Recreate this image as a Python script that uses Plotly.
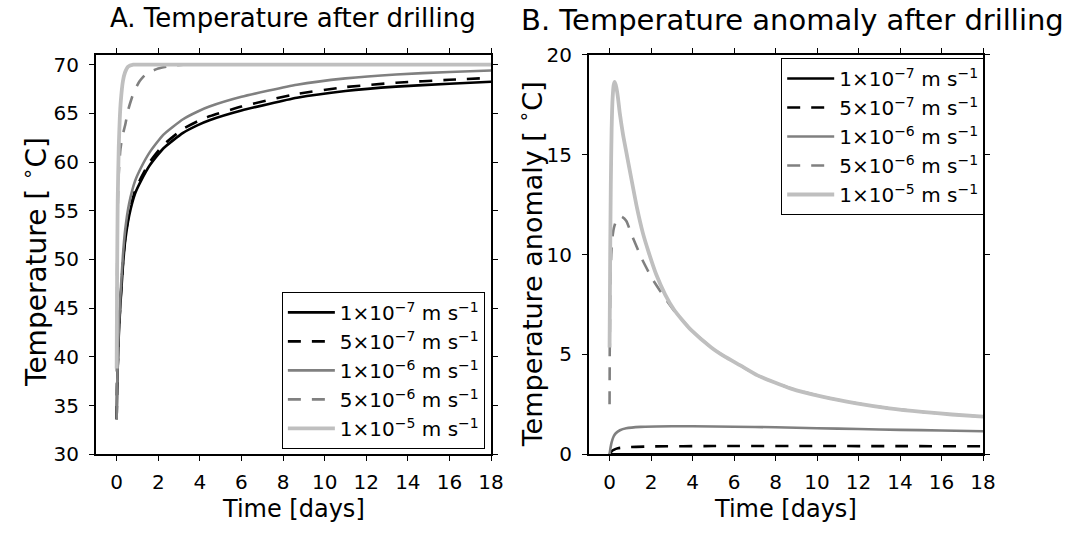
import plotly.graph_objects as go

# ---------------- data ----------------
labels = ["1×10<sup>−7</sup> m s<sup>−1</sup>", "5×10<sup>−7</sup> m s<sup>−1</sup>",
          "1×10<sup>−6</sup> m s<sup>−1</sup>", "5×10<sup>−6</sup> m s<sup>−1</sup>",
          "1×10<sup>−5</sup> m s<sup>−1</sup>"]

# Panel A: temperature [°C]
tA = [0, 0.02, 0.05, 0.1, 0.18, 0.3, 0.41, 0.6, 0.89, 1.2, 1.6, 2.24, 3.19, 3.9, 4.46, 6, 8.67, 11, 13.43, 16, 18]
TA_1e7 = [33.6, 36.5, 38.8, 42.1, 45.4, 49.3, 51.9, 54.5, 56.8, 58.2, 59.7, 61.4, 63.0, 63.8, 64.3, 65.3, 66.6, 67.3, 67.75, 68.05, 68.25]
TA_5e7 = [33.6, 36.6, 39.0, 42.3, 45.65, 49.6, 52.2, 54.8, 57.1, 58.5, 60.05, 61.75, 63.4, 64.2, 64.7, 65.7, 67.0, 67.7, 68.15, 68.45, 68.65]
TA_1e6 = [33.6, 36.7, 39.15, 42.7, 46.25, 50.35, 53.05, 55.75, 58.1, 59.55, 61.05, 62.8, 64.4, 65.2, 65.7, 66.7, 67.95, 68.6, 69.0, 69.25, 69.4]

tA_5e6 = [0, 0.01, 0.03, 0.06, 0.1, 0.18, 0.28, 0.41, 0.56, 0.81, 1.1, 1.44, 2.0, 2.55, 3.2, 18]
TA_5e6 = [36.0, 44.0, 51.0, 56.0, 58.8, 61.3, 62.7, 63.8, 65.4, 67.1, 68.3, 69.1, 69.6, 69.85, 70.0, 70.0]

tA_1e5 = [0, 0.02, 0.05, 0.1, 0.15, 0.2, 0.3, 0.4, 0.55, 0.8, 1.2, 18]
TA_1e5 = [38.8, 48.0, 56.0, 61.5, 64.5, 66.3, 68.3, 69.2, 69.8, 70.0, 70.0, 70.0]

# Panel B: temperature anomaly [°C]
tB_1e7 = [0, 2, 4, 6, 8, 10, 12, 14, 16, 18]
AB_1e7 = [0, 0, 0, 0, 0, 0, 0, 0, 0, 0]

tB_5e7 = [0, 0.1, 0.2, 0.4, 1, 2, 5, 10, 14, 18]
AB_5e7 = [0, 0.15, 0.22, 0.3, 0.36, 0.39, 0.41, 0.41, 0.405, 0.40]

tB_1e6 = [0, 0.05, 0.1, 0.2, 0.3, 0.5, 0.8, 1.5, 3, 4, 6, 8, 10, 12, 14, 16, 18]
AB_1e6 = [0, 0.35, 0.6, 0.9, 1.05, 1.2, 1.3, 1.37, 1.4, 1.4, 1.38, 1.35, 1.3, 1.26, 1.22, 1.19, 1.15]

tB_5e6 = [0, 0.01, 0.04, 0.08, 0.13, 0.2, 0.3, 0.42, 0.59, 0.8, 1.1, 1.57, 2.05, 2.68, 3.1, 3.48, 3.95, 4.9,
          5.54, 6.3, 7.13, 8.71, 10.3, 11.9, 13.48, 15.06, 16.5, 18]
AB_5e6 = [2.5, 5.5, 8.5, 10.0, 10.8, 11.3, 11.65, 11.85, 11.9, 11.7, 10.9, 9.76, 8.8, 7.8, 7.2, 6.75, 6.2, 5.35,
          4.9, 4.45, 3.95, 3.3, 2.87, 2.55, 2.3, 2.12, 1.99, 1.88]

tB_1e5 = [0, 0.03, 0.06, 0.1, 0.15, 0.2, 0.25, 0.32, 0.4, 0.49, 0.65, 0.85, 1.05, 1.33, 1.6, 1.89, 2.25, 2.68,
          3.1, 3.48, 3.95, 4.9, 5.54, 6.3, 7.13, 8.71, 10.3, 11.9, 13.48, 15.06, 16.5, 18]
AB_1e5 = [5.35, 10.0, 13.5, 16.3, 17.9, 18.5, 18.65, 18.4, 17.9, 17.1, 16.0, 14.9, 13.8, 12.3, 11.1, 10.1, 9.0, 8.0,
          7.25, 6.75, 6.2, 5.35, 4.9, 4.45, 3.95, 3.3, 2.87, 2.55, 2.3, 2.12, 1.99, 1.88]

x_ticks = [0, 2, 4, 6, 8, 10, 12, 14, 16, 18]
yA_ticks = [30, 35, 40, 45, 50, 55, 60, 65, 70]
yB_ticks = [0, 5, 10, 15, 20]

# ---------------- styles ----------------
styles = [
    dict(color="#000000", width=2.6, dash="solid"),
    dict(color="#000000", width=2.6, dash="13px,11px"),
    dict(color="#808080", width=2.6, dash="solid"),
    dict(color="#808080", width=2.6, dash="13px,11px"),
    dict(color="#bfbfbf", width=3.8, dash="solid"),
]

FONT = "DejaVu Sans"
fig = go.Figure()

A_series = [(tA, TA_1e7), (tA, TA_5e7), (tA, TA_1e6), (tA_5e6, TA_5e6), (tA_1e5, TA_1e5)]
B_series = [(tB_1e7, AB_1e7), (tB_5e7, AB_5e7), (tB_1e6, AB_1e6), (tB_5e6, AB_5e6), (tB_1e5, AB_1e5)]

for (t, v), lab, st in zip(A_series, labels, styles):
    fig.add_trace(go.Scatter(x=t, y=v, mode="lines", name=lab, line=dict(shape="spline", smoothing=0.5, **st),
                             xaxis="x", yaxis="y", legend="legend"))
for (t, v), lab, st in zip(B_series, labels, styles):
    fig.add_trace(go.Scatter(x=t, y=v, mode="lines", name=lab, line=dict(shape="spline", smoothing=0.5, **st),
                             xaxis="x2", yaxis="y2", legend="legend2"))

axis_common = dict(showline=True, linecolor="black", linewidth=1.6, mirror="allticks", ticks="outside",
                   ticklen=5, tickwidth=1, tickcolor="black", showgrid=False, zeroline=False,
                   tickfont=dict(family=FONT, size=20, color="black"))

def txt(text, x, y, size, angle=0, anchor_y="middle", yshift=0):
    return dict(text=text, x=x, y=y, xref="paper", yref="paper", xanchor="center", yanchor=anchor_y,
                showarrow=False, textangle=angle, yshift=yshift, font=dict(family=FONT, size=size, color="black"))

fig.update_layout(
    width=1077, height=535,
    margin=dict(l=0, r=0, t=0, b=0),
    paper_bgcolor="white", plot_bgcolor="white",
    font=dict(family=FONT, color="black"),
    xaxis=dict(domain=[0.0901, 0.4615], range=[-1, 18], tickvals=x_ticks, anchor="y", ticklabelstandoff=4,
               **axis_common),
    yaxis=dict(domain=[0.1346, 0.9159], range=[30, 71], tickvals=yA_ticks, anchor="x", ticklabelstandoff=6,
               **axis_common),
    xaxis2=dict(domain=[0.5534, 0.9239], range=[-1, 18], tickvals=x_ticks, anchor="y2", ticklabelstandoff=4,
                **axis_common),
    yaxis2=dict(domain=[0.1346, 0.9159], range=[0, 20], tickvals=yB_ticks, anchor="x2", ticklabelstandoff=6,
                **axis_common),
    legend=dict(x=0.4557, y=0.145, xanchor="right", yanchor="bottom", bgcolor="white", itemwidth=47,
                bordercolor="black", borderwidth=1, font=dict(family=FONT, size=20)),
    legend2=dict(x=0.925, y=0.91, xanchor="right", yanchor="top", bgcolor="white", itemwidth=47,
                 bordercolor="black", borderwidth=1, font=dict(family=FONT, size=20)),
    annotations=[
        txt("A. Temperature after drilling", 0.2758, 1.0, 26, anchor_y="top", yshift=11),
        txt("B. Temperature anomaly after drilling", 0.7447, 1.0, 29, anchor_y="top", yshift=11),
        txt("Time [days]", 0.2758, 0.028, 24),
        txt("Time [days]", 0.7386, 0.028, 24),
        txt("Temperature [ <sup>∘</sup>C]", 0.0325, 0.51, 28, angle=-90),
        txt("Temperature anomaly [ <sup>∘</sup>C]", 0.4985, 0.507, 27, angle=-90),
    ],
)

fig.write_html("out.html")
